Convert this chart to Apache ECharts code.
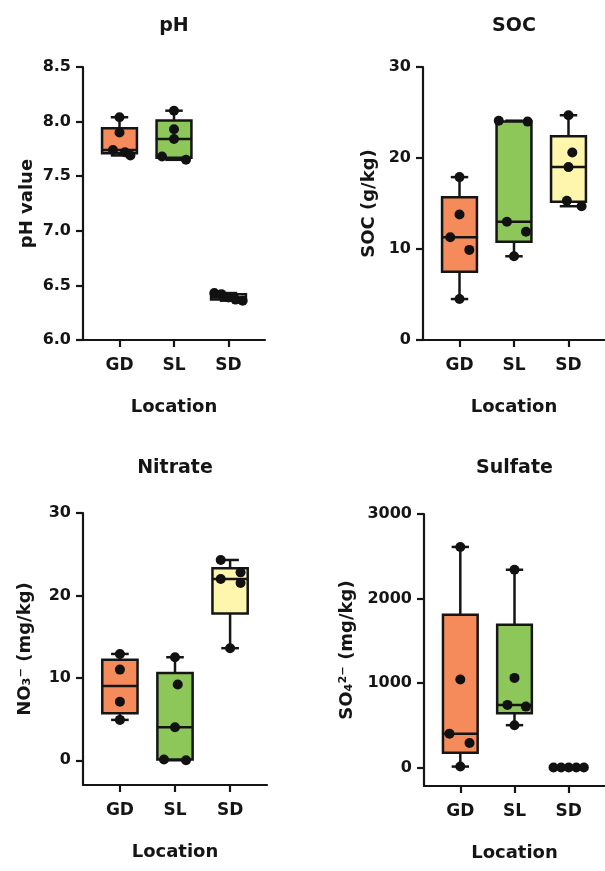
<!DOCTYPE html>
<html>
<head>
<meta charset="utf-8">
<title>Soil properties by location</title>
<script src="https://cdn.jsdelivr.net/npm/echarts@6/dist/echarts.min.js"></script>
<style>
  html, body { margin: 0; padding: 0; background: #fff; }
  #chart { width: 605px; height: 871px; }
</style>
</head>
<body>
<div id="chart"></div>
<script>
const locations = ['GD', 'SL', 'SD'];

// box stats per location: [min, Q1, median, Q3, max]
const phBox = [
  [7.69, 7.71, 7.74, 7.94, 8.04],
  [7.65, 7.67, 7.84, 8.01, 8.10],
  [6.36, 6.37, 6.39, 6.42, 6.43],
];
const phPoints = [
  [8.04, 7.90, 7.74, 7.72, 7.69],
  [8.10, 7.93, 7.84, 7.68, 7.65],
  [6.43, 6.42, 6.39, 6.37, 6.36],
];
const phTicks = [6.0, 6.5, 7.0, 7.5, 8.0, 8.5];

const socBox = [
  [4.5, 7.5, 11.3, 15.7, 17.9],
  [9.2, 10.8, 13.0, 24.0, 24.1],
  [14.7, 15.2, 19.0, 22.4, 24.7],
];
const socPoints = [
  [17.9, 13.8, 11.3, 9.9, 4.5],
  [24.1, 24.0, 13.0, 11.9, 9.2],
  [24.7, 20.6, 19.0, 15.3, 14.7],
];
const socTicks = [0, 10, 20, 30];

const nitrateBox = [
  [4.9, 5.7, 9.0, 12.2, 12.9],
  [0.0, 0.1, 4.0, 10.6, 12.5],
  [13.6, 17.8, 22.0, 23.3, 24.3],
];
const nitratePoints = [
  [12.9, 11.0, 7.1, 4.9],
  [12.5, 9.2, 4.0, 0.1, 0.0],
  [24.3, 22.8, 22.0, 21.5, 13.6],
];
const nitrateTicks = [0, 10, 20, 30];

const sulfateBox = [
  [10, 173, 400, 1806, 2610],
  [500, 640, 740, 1688, 2340],
  [0, 0, 0, 0, 0],
];
const sulfatePoints = [
  [2610, 1040, 400, 290, 10],
  [2340, 1060, 740, 720, 500],
  [0, 0, 0, 0, 0],
];
const sulfateTicks = [0, 1000, 2000, 3000];

// horizontal spread of the dots (fraction of one category step)
const phSpread = [[0, 0, -0.12, 0.1, 0.2], [0, 0, 0, -0.22, 0.22], [-0.26, -0.13, 0, 0.13, 0.26]];
const socSpread = [[0, 0, -0.17, 0.18, 0], [-0.28, 0.25, -0.13, 0.22, 0], [0, 0.07, 0, -0.03, 0.24]];
const nitrateSpread = [[0, 0, 0, 0], [0, 0.05, 0, -0.2, 0.2], [-0.17, 0.19, -0.17, 0.19, 0]];
const sulfateSpread = [[0, 0, -0.2, 0.17, 0], [0, 0, -0.13, 0.21, 0], [-0.28, -0.14, 0, 0.14, 0.28]];

const boxColors = ['#F58B5B', '#8DC75A', '#FFF6AE'];
const ink = '#151515';
const font = 'DejaVu Sans';

const chart = echarts.init(document.getElementById('chart'));

const renderBox = (params, api) => {
  const x = api.value(0);
  const lo = api.coord([x, api.value(1)]);
  const q1 = api.coord([x, api.value(2)]);
  const med = api.coord([x, api.value(3)]);
  const q3 = api.coord([x, api.value(4)]);
  const hi = api.coord([x, api.value(5)]);
  const half = api.size([1, 0])[0] * 0.32;
  const cap = half / 2;
  const line = { stroke: ink, lineWidth: 2.5 };
  return {
    type: 'group',
    children: [
      { type: 'line', shape: { x1: hi[0], y1: hi[1], x2: q3[0], y2: q3[1] }, style: line },
      { type: 'line', shape: { x1: lo[0], y1: lo[1], x2: q1[0], y2: q1[1] }, style: line },
      { type: 'line', shape: { x1: hi[0] - cap, y1: hi[1], x2: hi[0] + cap, y2: hi[1] }, style: line },
      { type: 'line', shape: { x1: lo[0] - cap, y1: lo[1], x2: lo[0] + cap, y2: lo[1] }, style: line },
      {
        type: 'rect',
        shape: { x: q3[0] - half, y: q3[1], width: half * 2, height: q1[1] - q3[1] },
        style: { fill: boxColors[params.dataIndex], stroke: ink, lineWidth: 2.5 },
      },
      { type: 'line', shape: { x1: med[0] - half, y1: med[1], x2: med[0] + half, y2: med[1] }, style: line },
    ],
  };
};

const axisLine = { show: true, onZero: false, lineStyle: { color: ink, width: 2.2 } };
const tickStyle = { color: ink, width: 2.2 };

const makeXAxis = (gridIndex) => ({
  type: 'value',
  gridIndex,
  min: 0.33,
  max: 3.67,
  name: 'Location',
  nameLocation: 'middle',
  nameGap: 58,
  nameTextStyle: { fontFamily: font, fontWeight: 'bold', fontSize: 18, color: ink },
  axisLine,
  axisTick: { show: true, length: 7, lineStyle: tickStyle, customValues: [1, 2, 3] },
  axisLabel: {
    customValues: [1, 2, 3],
    formatter: (v) => locations[Math.round(v) - 1],
    margin: 17,
    fontFamily: font,
    fontWeight: 'bold',
    fontSize: 17,
    color: ink,
  },
  splitLine: { show: false },
});

const makeYAxis = (gridIndex, name, min, max, ticks, nameGap, digits) => ({
  type: 'value',
  gridIndex,
  min,
  max,
  name,
  nameLocation: 'middle',
  nameRotate: 90,
  nameGap,
  nameTextStyle: { fontFamily: font, fontWeight: 'bold', fontSize: 18, color: ink },
  axisLine,
  axisTick: { show: true, length: 7, lineStyle: tickStyle, customValues: ticks },
  axisLabel: {
    customValues: ticks,
    formatter: (v) => v.toFixed(digits),
    margin: 12,
    fontFamily: font,
    fontWeight: 'bold',
    fontSize: 16,
    color: ink,
  },
  splitLine: { show: false },
});

const panels = [
  { title: 'pH', box: phBox, points: phPoints, spread: phSpread,
    grid: { left: 83, top: 67, width: 182, height: 273 },
    y: ['pH value', 6, 8.5, phTicks, 47, 1], titleTop: 17 },
  { title: 'SOC', box: socBox, points: socPoints, spread: socSpread,
    grid: { left: 423, top: 67, width: 182, height: 273 },
    y: ['SOC (g/kg)', 0, 30, socTicks, 45, 0], titleTop: 17 },
  { title: 'Nitrate', box: nitrateBox, points: nitratePoints, spread: nitrateSpread,
    grid: { left: 83, top: 513, width: 184, height: 272 },
    y: ['NO₃⁻ (mg/kg)', -3, 30, nitrateTicks, 49, 0], titleTop: 459 },
  { title: 'Sulfate', box: sulfateBox, points: sulfatePoints, spread: sulfateSpread,
    grid: { left: 424, top: 514, width: 181, height: 272 },
    y: ['SO₄²⁻ (mg/kg)', -220, 3000, sulfateTicks, 68, 0], titleTop: 459 },
];

const option = {
  backgroundColor: '#fff',
  animation: false,
  title: panels.map((p) => ({
    text: p.title,
    left: p.grid.left + p.grid.width / 2,
    top: p.titleTop,
    textAlign: 'center',
    padding: 0,
    textStyle: { fontFamily: font, fontWeight: 'bold', fontSize: 19, color: ink },
  })),
  grid: panels.map((p) => ({ ...p.grid, outerBoundsMode: 'none' })),
  xAxis: panels.map((p, i) => makeXAxis(i)),
  yAxis: panels.map((p, i) => makeYAxis(i, ...p.y)),
  series: [],
};

panels.forEach((p, i) => {
  option.series.push({
    type: 'custom',
    xAxisIndex: i,
    yAxisIndex: i,
    renderItem: renderBox,
    data: p.box.map((b, k) => [k + 1, ...b]),
    z: 2,
  });
  const dots = [];
  p.points.forEach((vals, k) => {
    vals.forEach((v, j) => dots.push([k + 1 + p.spread[k][j], v]));
  });
  option.series.push({
    type: 'scatter',
    xAxisIndex: i,
    yAxisIndex: i,
    data: dots,
    symbolSize: 10,
    itemStyle: { color: '#111', opacity: 1 },
    z: 3,
  });
});

chart.setOption(option);
</script>
</body>
</html>
